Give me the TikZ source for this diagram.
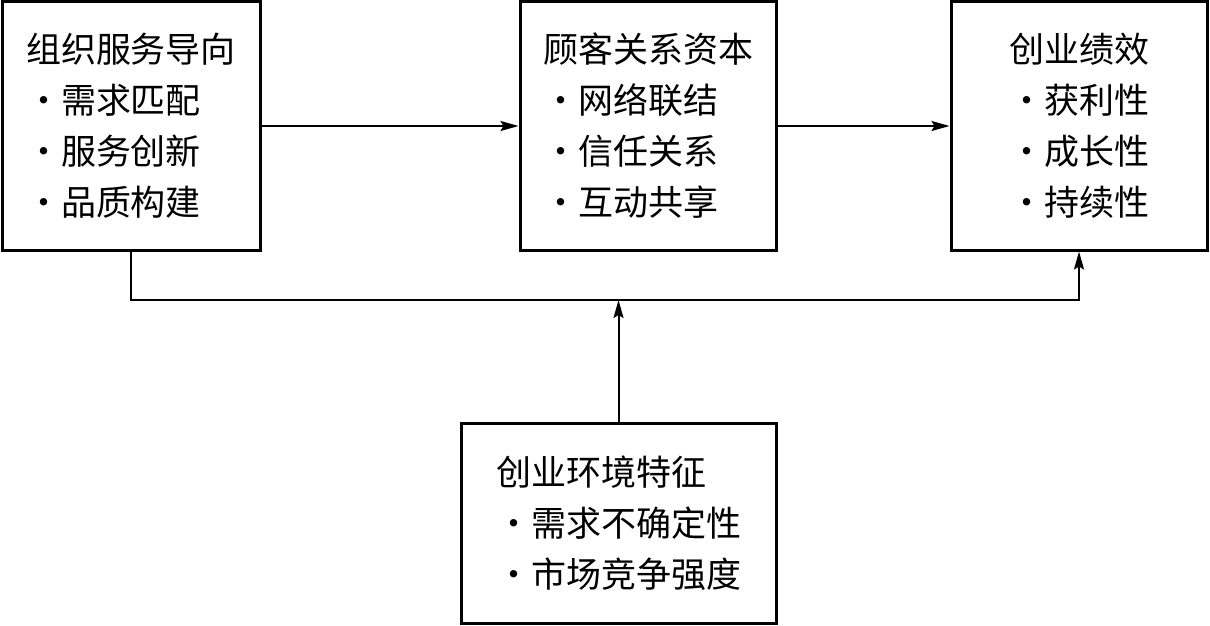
\documentclass[tikz,border=0pt]{standalone}
\usepackage{fontspec}
\setmainfont{Noto Sans CJK SC}
\usetikzlibrary{arrows.meta}

\newcommand{\bdot}{\makebox[1em]{·}}

\begin{document}
\begin{tikzpicture}[x=1pt,y=-1pt,
  box/.style={draw,line width=3pt,align=left,inner sep=0pt,
    font=\fontsize{35}{51}\selectfont},
  link/.style={line width=2pt,-{Stealth[length=18pt,width=10pt,inset=3pt]}}]

  \useasboundingbox (0,0) rectangle (1210,626);

  % Upper row
  \node[box,minimum width=258pt,minimum height=248pt] (org) at (131,126)
    {组织服务导向\\\bdot 需求匹配\\\bdot 服务创新\\\bdot 品质构建};
  \node[box,minimum width=256pt,minimum height=248pt] (cap) at (648,126)
    {顾客关系资本\\\bdot 网络联结\\\bdot 信任关系\\\bdot 互动共享};
  \node[box,minimum width=256pt,minimum height=248pt] (perf) at (1079,126)
    {创业绩效\\\bdot 获利性\\\bdot 成长性\\\bdot 持续性};

  % Environment box
  \node[box,minimum width=315pt,minimum height=200pt] (env) at (618.5,523)
    {创业环境特征\\\bdot 需求不确定性\\\bdot 市场竞争强度};

  % Main path
  \draw[link] (org) -- (cap);
  \draw[link] (cap) -- (perf);

  % Direct path and moderation
  \coordinate (bus) at (620,300);
  \draw[link] (org.south) |- (bus) -| (perf.south);
  \draw[link] (env.north) -- (env.north |- bus);
\end{tikzpicture}
\end{document}
